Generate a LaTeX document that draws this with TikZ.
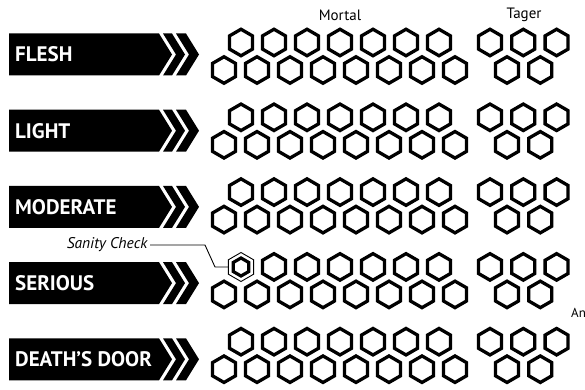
\documentclass[tikz,border=0pt]{standalone}
\usepackage{fontspec}
\setmainfont{PT Sans}
\usetikzlibrary{shapes.geometric,positioning}

\begin{document}
\begin{tikzpicture}[x=1pt,y=-1pt,
  hexcell/.style={draw=black,line width=3.3pt,regular polygon,regular polygon sides=6,shape border rotate=30,minimum size=26.5pt,inner sep=0pt},
  hexthin/.style={hexcell,line width=0.9pt,minimum size=29pt},
  hexcore/.style={hexcell,line width=3.2pt,minimum size=18pt},
  bannertext/.style={anchor=west,text=white,font=\fontsize{21}{24}\selectfont\bfseries,inner sep=0pt},
  colhead/.style={font=\fontsize{15}{17}\selectfont,inner sep=0pt},
  leader/.style={line width=0.9pt}
]
\useasboundingbox (0,0) rectangle (585,390);

% column heads
\node[colhead] (mortal) at (340,15) {Mortal};
\node[colhead] (tager) at (524,15) {Tager};

% wound rows: banner + chevrons, then the boxes
\foreach \lbl [count=\i from 0] in {FLESH,LIGHT,MODERATE,SERIOUS,DEATH’S DOOR}{
  \pgfmathsetmacro\by{54.5+76.2*\i}
  \pgfmathsetmacro\hy{42.5+74.8*\i}
  \fill (9,\by-21) -- (159,\by-21) -- (172,\by) -- (159,\by+21) -- (9,\by+21) -- cycle;
  \fill (163,\by-21) -- (172,\by-21) -- (185,\by) -- (172,\by+21) -- (163,\by+21) -- (176,\by) -- cycle;
  \fill (176,\by-21) -- (186,\by-21) -- (199,\by) -- (186,\by+21) -- (176,\by+21) -- (189,\by) -- cycle;
  \node[bannertext] (w\i) at (15,\by) {\lbl};
  % mortal boxes
  \foreach \k in {0,...,6}{
    \ifnum\numexpr\i*10+\k\relax=30 \else
      \node[hexcell] (m\i t\k) at ({241+33*\k},\hy) {};
    \fi
  }
  \foreach \k in {0,...,7}
    \node[hexcell] (m\i b\k) at ({224+33*\k},\hy+27.5) {};
  % tager boxes
  \foreach \k in {0,1,2}
    \node[hexcell] (t\i t\k) at ({490+33.3*\k},\hy) {};
  \foreach \k in {0,1}
    \node[hexcell] (t\i b\k) at ({507+33.3*\k},\hy+27.5) {};
}

% sanity check box
\node[hexthin] (sc) at (241,267) {};
\node[hexcore] (sccore) at (sc) {};
\node[colhead,anchor=east,font=\fontsize{15.5}{18}\selectfont\itshape,inner sep=2.5pt] (sanity) at (150,245) {Sanity Check};
\coordinate (bendA) at (205,245);
\coordinate (bendB) at (215,267);
\draw[leader] (sanity.east) -- (bendA) -- (bendB) -- (sc.west);

\node[colhead,anchor=west,font=\fontsize{13}{15}\selectfont] (armor) at (571,313) {An};
\end{tikzpicture}
\end{document}
